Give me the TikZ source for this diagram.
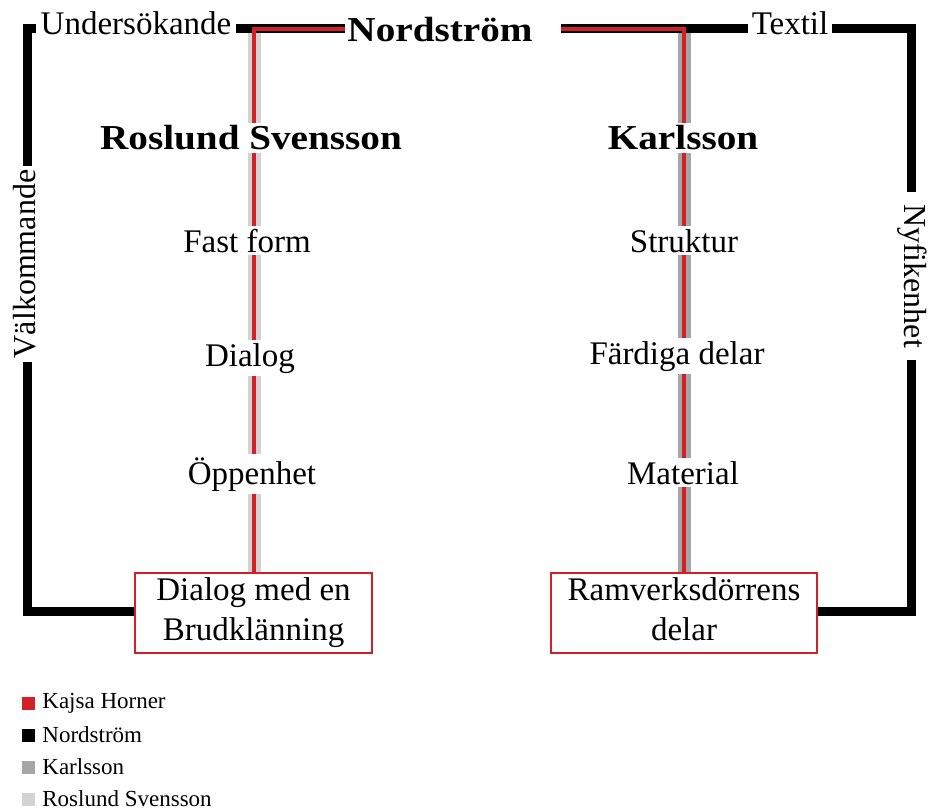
\documentclass[tikz,border=0pt]{standalone}
\usepackage{fontspec}
\setmainfont{Liberation Serif}
\newfontfamily\titlefont{Liberation Serif}[FakeStretch=1.12]
\usetikzlibrary{positioning}
\definecolor{kajsared}{RGB}{210,32,39}
\definecolor{karlgray}{RGB}{166,166,166}
\definecolor{rosgray}{RGB}{211,211,211}

\begin{document}
\begin{tikzpicture}[x=1pt, y=-1pt,
    nordline/.style={line width=9pt},
    kajsaline/.style={line width=3.5pt, kajsared},
    karlline/.style={line width=13pt, karlgray},
    rosline/.style={line width=13pt, rosgray},
    toplabel/.style={font=\fontsize{33}{40}\selectfont, inner sep=4pt, anchor=base},
    sidelabel/.style={font=\fontsize{32}{38}\selectfont, inner sep=4pt},
    colhead/.style={font=\titlefont\bfseries\fontsize{35}{40}\selectfont, fill=white, inner sep=3pt, anchor=base},
    stage/.style={font=\fontsize{33}{40}\selectfont, fill=white, inner sep=3pt, anchor=base},
    resultbox/.style={draw=kajsared, line width=2.5pt, fill=white, align=center, minimum height=80pt, inner sep=0pt, font=\fontsize{33}{40}\selectfont},
    legendbox/.style={minimum size=13pt, inner sep=0pt},
    legendtext/.style={font=\fontsize{23}{26}\selectfont, inner sep=0pt}]
  \useasboundingbox (0,0) rectangle (928,810);

  % corners of the frame
  \coordinate (tl) at (27,29);
  \coordinate (tr) at (911,29);
  \coordinate (bl) at (27,611);
  \coordinate (br) at (911,611);
  \coordinate (rosTop) at (254,29);
  \coordinate (karTop) at (684,29);
  \coordinate (nordR) at (561,29);

  % labels on the frame
  \node[toplabel] (unders) at (136,35) {Undersökande};
  \node[toplabel] (textil) at (790,35) {Textil};
  \node[colhead, fill=none, inner sep=2pt] (nord) at (440,42) {Nordström};
  \node[sidelabel, rotate=90] (valk) at (25,264) {Välkommande};
  \node[sidelabel, rotate=-90, inner xsep=12pt] (nyfik) at (912,276) {Nyfikenhet};

  % results
  \node[resultbox, minimum width=237pt] (brud) at (253.5,613) {Dialog med en\\Brudklänning};
  \node[resultbox, minimum width=266pt] (door) at (684,613) {Ramverksdörrens\\delar\vphantom{g}};

  % columns
  \draw[rosline] (rosTop) -- (rosTop |- brud.north);
  \draw[karlline] (karTop) -- (karTop |- door.north);

  % frame
  \draw[nordline] (unders.west |- tl) -- (tl) -- (valk.east -| tl);
  \draw[nordline] (valk.west -| tl) -- (bl) -- (brud.west |- bl);
  \draw[nordline] (unders.east |- tl) -- (nord.west |- tl);
  \draw[nordline] (nordR) -- (textil.west |- tl);
  \draw[nordline] (textil.east |- tl) -- (tr) -- (nyfik.west -| tr);
  \draw[nordline] (nyfik.east -| tr) -- (br) -- (door.east |- br);

  \draw[kajsaline] (nord.west |- tl) -- (rosTop) -- (rosTop |- brud.north);
  \draw[kajsaline] (nordR) -- (karTop) -- (karTop |- door.north);

  \node[colhead] (ros) at (251,150) {Roslund Svensson};
  \node[colhead] (karl) at (683,150) {Karlsson};
  \node[stage] (fast) at (247,252) {Fast form};
  \node[stage] (dial) at (250,366) {Dialog};
  \node[stage] (oppen) at (252,484) {Öppenhet};
  \node[stage] (strukt) at (684,252) {Struktur};
  \node[stage] (fard) at (677,364) {Färdiga delar};
  \node[stage] (mat) at (683,484) {Material};

  % legend
  \foreach \col/\name [count=\i from 0] in {kajsared/Kajsa Horner, black/Nordström, karlgray/Karlsson, rosgray/Roslund Svensson} {
    \node[legendbox, fill=\col] (key\i) at (28.5,{703+32*\i}) {};
    \node[legendtext, right=7pt of key\i] (keytext\i) {\name};
  }
\end{tikzpicture}
\end{document}
